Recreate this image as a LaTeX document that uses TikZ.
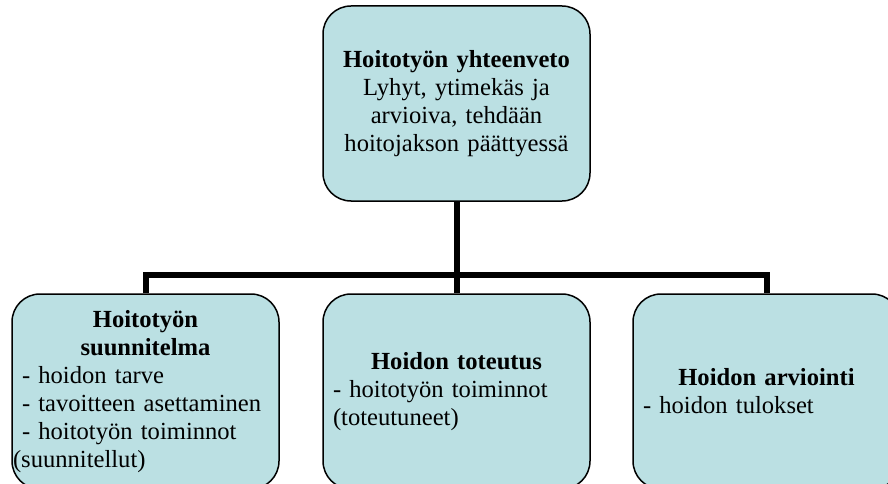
\documentclass[tikz,border=0pt]{standalone}
\usepackage{fontspec}
\setmainfont{Liberation Serif}
\definecolor{boxfill}{RGB}{187,224,227}
\tikzset{
	box/.style={draw=black, fill=boxfill, line width=1.5pt, rounded corners=28pt,
		minimum width=267pt, minimum height=195pt, inner xsep=10pt, inner ysep=0pt,
		text width=247pt, font=\fontsize{24.6}{28}\selectfont},
	conn/.style={line width=6pt}
}

\begin{document}
\begin{tikzpicture}[x=1pt,y=-1pt]
	%%%%% START %%%%%
	\useasboundingbox (0,0) rectangle (888,484);
	\clip (0,0) rectangle (888,484);
	
	\node[box, align=center] (yhteenveto) at (456.5,103.5) {\textbf{Hoitotyön yhteenveto}\\Lyhyt, ytimekäs ja\\arvioiva, tehdään\\hoitojakson päättyessä};
	
	\node[box] (suunnitelma) at (145.5,391.5) {{\centering\bfseries Hoitotyön\\suunnitelma\par}\raggedright - hoidon tarve\\- tavoitteen asettaminen\\- hoitotyön toiminnot\\\hspace*{-9pt}(suunnitellut)};
	\node[box] (toteutus) at (456.5,391.5) {{\centering\bfseries Hoidon toteutus\par}\raggedright - hoitotyön toiminnot\\(toteutuneet)};
	\node[box] (arviointi) at (766.5,391.5) {{\centering\bfseries Hoidon arviointi\par}\raggedright - hoidon tulokset};
	
	\draw[conn] (yhteenveto.south) -- (toteutus.north);
	\draw[conn] (suunnitelma.north) -- ++(0,-18) -| (arviointi.north);
	%%%%% END %%%%%
\end{tikzpicture}
\end{document}
